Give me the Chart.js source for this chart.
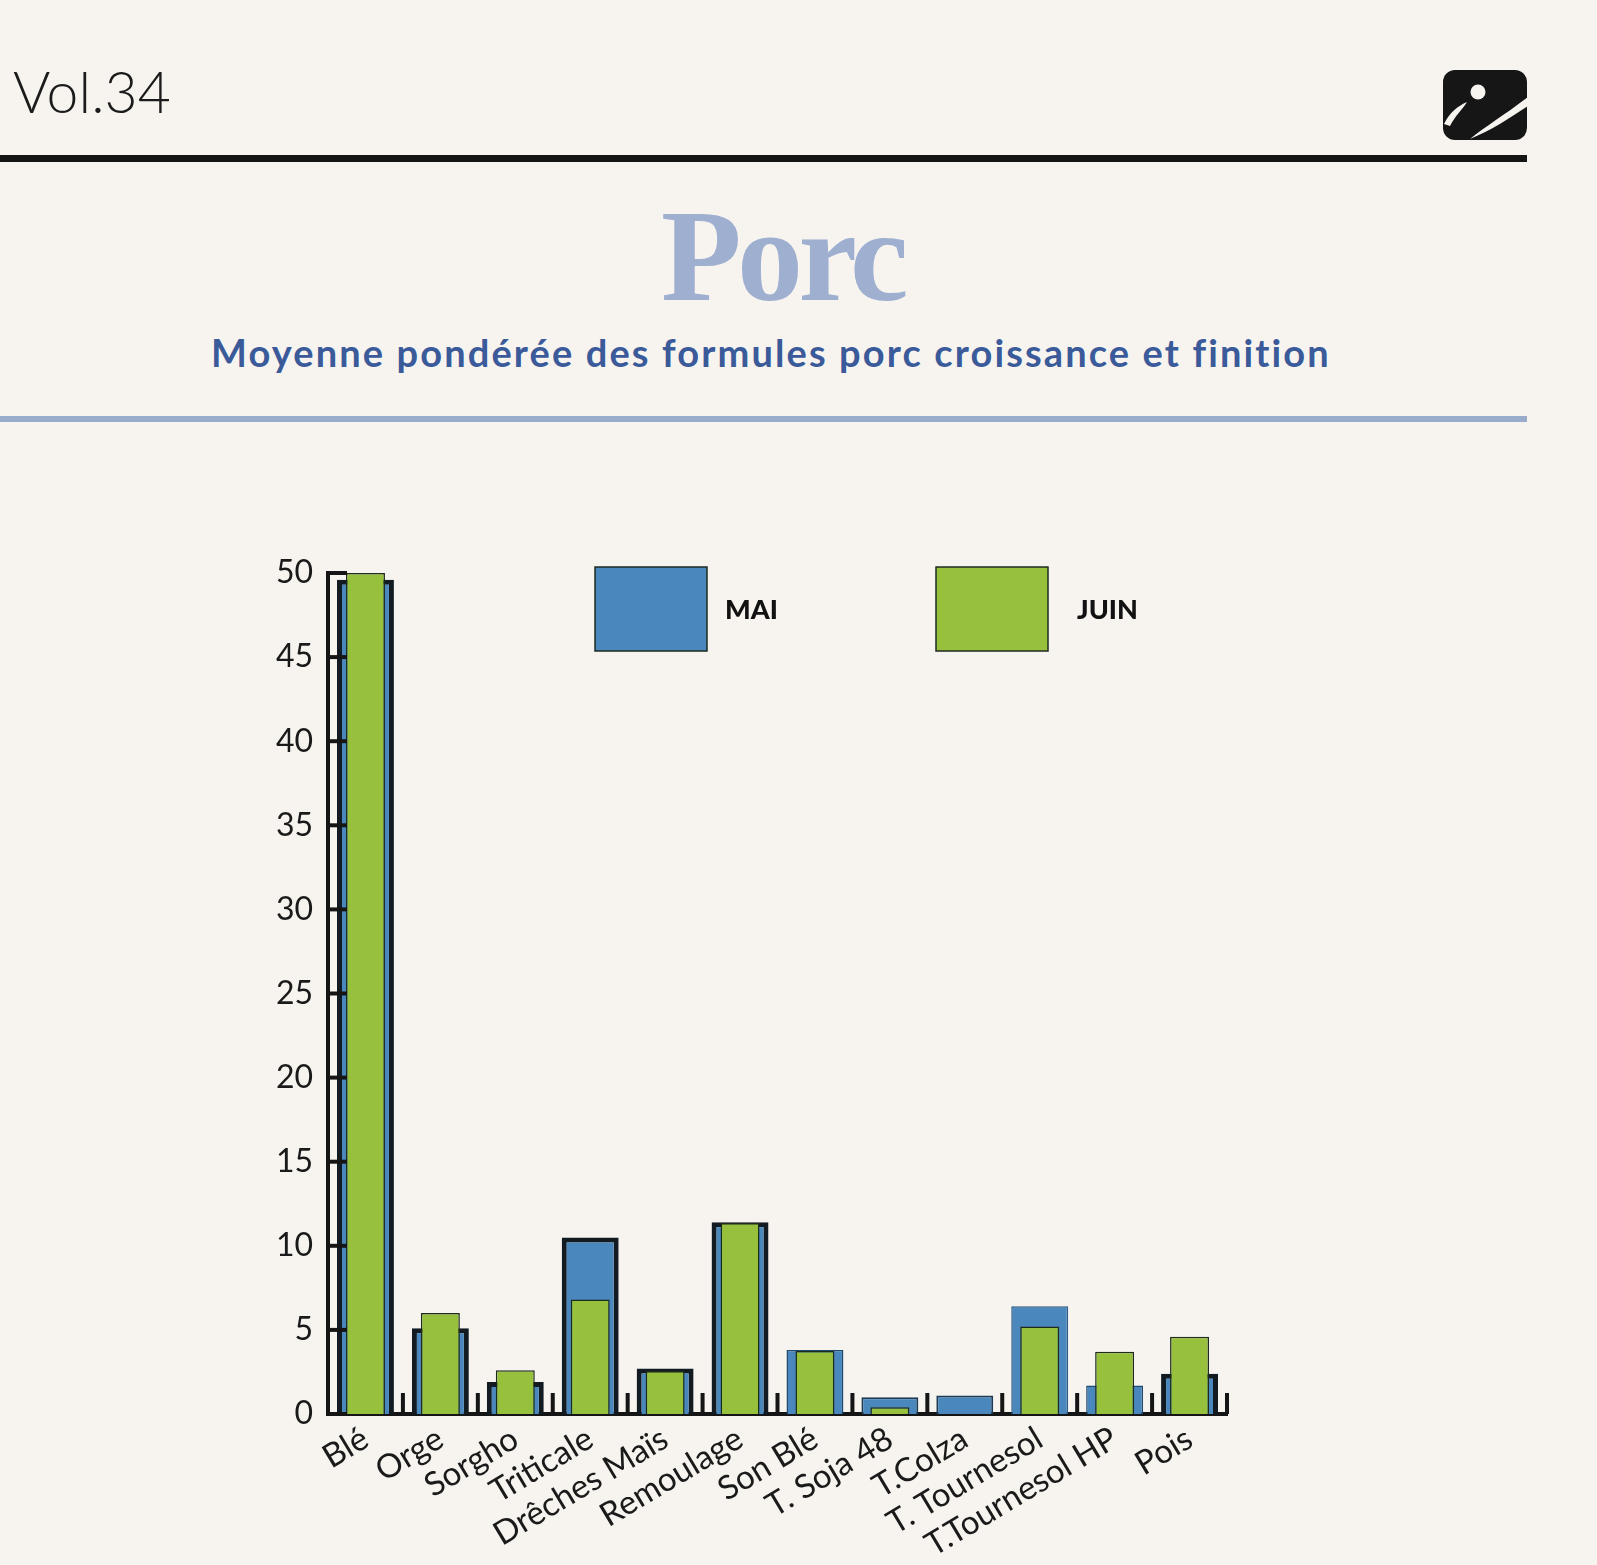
<!DOCTYPE html>
<html lang="fr">
<head>
<meta charset="utf-8">
<title>Porc - Moyenne pondérée</title>
<script src="https://cdn.jsdelivr.net/npm/chart.js@4.4.1/dist/chart.umd.min.js"></script>
<style>
  html, body { margin: 0; padding: 0; background: #f7f4f0; }
  body { width: 1597px; height: 1565px; position: relative; overflow: hidden; }
  .txt { position: absolute; white-space: nowrap; line-height: 1; }
  #vol { left: 13px; top: 63px; font-family: Lato; font-weight: 300; font-size: 57px; color: #1b1b1b; }
  #rule1 { position: absolute; left: 0; top: 155px; width: 1527px; height: 7px; background: #151515; }
  #logo { position: absolute; left: 1440px; top: 66px; }
  #title { left: 661px; top: 190px; font-family: "Liberation Serif"; font-weight: 700; font-size: 132px; color: #9eafd0; }
  #subtitle { left: 211px; top: 333px; font-family: Lato; font-weight: 700; font-size: 38px; color: #3a5a9a; }
  #rule2 { position: absolute; left: 0; top: 416px; width: 1527px; height: 6px; background: #9aaccc; }
  #chart { position: absolute; left: 0; top: 0; }
</style>
</head>
<body>
<div id="vol" class="txt">Vol.34</div>
<svg id="logo" width="90" height="78" viewBox="0 0 90 78">
  <rect x="3" y="4" width="84" height="70" rx="12" fill="#161616"/>
  <circle cx="38" cy="26" r="7.5" fill="#f7f4f0"/>
  <path d="M4 58 C10 46 18 40 27 36 C22 44 15 50 10 60 Z" fill="#f7f4f0"/>
  <path d="M30 73 C46 60 66 48 88 31 L88 40 C70 52 52 64 30 73 Z" fill="#f7f4f0"/>
</svg>
<div id="rule1"></div>
<div id="title" class="txt">Porc</div>
<div id="subtitle" class="txt">Moyenne pondérée des formules porc croissance et finition</div>
<div id="rule2"></div>
<canvas id="chart" width="1597" height="1565"></canvas>
<script>
// data
const categories = ["Blé", "Orge", "Sorgho", "Triticale", "Drêches Maïs", "Remoulage",
  "Son Blé", "T. Soja 48", "T.Colza", "T. Tournesol", "T.Tournesol HP", "Pois"];
const maiValues = [49.6, 5.1, 1.9, 10.5, 2.7, 11.4, 3.8, 1.0, 1.1, 6.4, 1.7, 2.4];
const juinValues = [50.0, 6.0, 2.6, 6.8, 2.55, 11.35, 3.75, 0.4, 0, 5.2, 3.7, 4.6];
const seriesNames = ["MAI", "JUIN"];
const yMin = 0, yMax = 50, yStep = 5;

// squeeze or stretch text to a target width
function fitWidth(id, target) {
  const el = document.getElementById(id);
  const w = el.getBoundingClientRect().width;
  const n = el.textContent.length;
  el.style.letterSpacing = ((target - w) / n) + "px";
}
fitWidth("vol", 158);
fitWidth("title", 243);
fitWidth("subtitle", 1120);

Chart.defaults.font.family = "Lato";
Chart.defaults.color = "#1a1a1a";

// tick marks drawn inside the plot, like the original
const innerTicks = {
  id: "innerTicks",
  afterDatasetsDraw(chart) {
    const ctx = chart.ctx;
    const x = chart.scales.x, y = chart.scales.y;
    const area = chart.chartArea;
    ctx.save();
    ctx.strokeStyle = "#151515";
    ctx.lineWidth = 4;
    y.ticks.forEach(t => {
      const py = y.getPixelForValue(t.value);
      ctx.beginPath();
      ctx.moveTo(area.left, py);
      ctx.lineTo(area.left + 19, py);
      ctx.stroke();
    });
    for (let i = 1; i <= categories.length; i++) {
      const px = x.getPixelForValue(i - 0.5);
      ctx.beginPath();
      ctx.moveTo(px, area.bottom);
      ctx.lineTo(px, area.bottom - 21);
      ctx.stroke();
    }
    ctx.restore();
  }
};

// legend with big square swatches
const bigLegend = {
  id: "bigLegend",
  afterDraw(chart) {
    const ctx = chart.ctx;
    const spots = [{ x: 595, tx: 725 }, { x: 936, tx: 1077 }];
    ctx.save();
    chart.data.datasets.forEach((ds, i) => {
      const s = spots[i];
      ctx.fillStyle = ds.backgroundColor;
      ctx.fillRect(s.x, 567, 112, 84);
      ctx.strokeStyle = "#1d2a20";
      ctx.lineWidth = 1.5;
      ctx.strokeRect(s.x, 567, 112, 84);
      ctx.fillStyle = "#111";
      ctx.font = "900 27px Lato";
      ctx.textBaseline = "middle";
      ctx.fillText(ds.label, s.tx, 610);
    });
    ctx.restore();
  }
};

new Chart(document.getElementById("chart"), {
  type: "bar",
  data: {
    labels: categories,
    datasets: [
      {
        label: seriesNames[0],
        data: maiValues,
        backgroundColor: "#4a87bc",
        borderColor: ["#121a22", "#121a22", "#121a22", "#121a22", "#121a22", "#121a22",
          "#1f4a70", "#1f3a55", "#1f3a55", "#2a5a85", "#1f4a70", "#121a22"],
        borderWidth: [5, 5, 5, 5, 5, 5, 1.5, 2, 2, 1.5, 1.5, 5],
        borderSkipped: "bottom",
        barPercentage: 0.76,
        categoryPercentage: 1,
        grouped: false,
        order: 1
      },
      {
        label: seriesNames[1],
        data: juinValues,
        backgroundColor: "#97c13c",
        borderColor: "#1d2a1c",
        borderWidth: 1.5,
        borderSkipped: "bottom",
        barPercentage: 0.52,
        categoryPercentage: 1,
        grouped: false,
        order: 0
      }
    ]
  },
  options: {
    responsive: false,
    animation: false,
    layout: { padding: { left: 248, right: 370, top: 573, bottom: 11 } },
    plugins: {
      legend: { display: false },
      tooltip: { enabled: false }
    },
    scales: {
      x: {
        grid: { display: false, drawTicks: false },
        border: { display: true, color: "#151515", width: 4 },
        ticks: {
          font: { size: 33 },
          color: "#1a1a1a",
          minRotation: 31,
          maxRotation: 31,
          padding: 5,
          autoSkip: false
        },
        afterFit(scale) { scale.height = 140; }
      },
      y: {
        min: yMin,
        max: yMax,
        grid: { display: false, drawTicks: false },
        border: { display: true, color: "#151515", width: 4 },
        ticks: {
          stepSize: yStep,
          font: { size: 32 },
          color: "#1a1a1a",
          padding: 15
        },
        afterFit(scale) { scale.width = 80; }
      }
    }
  },
  plugins: [innerTicks, bigLegend]
});
</script>
</body>
</html>
